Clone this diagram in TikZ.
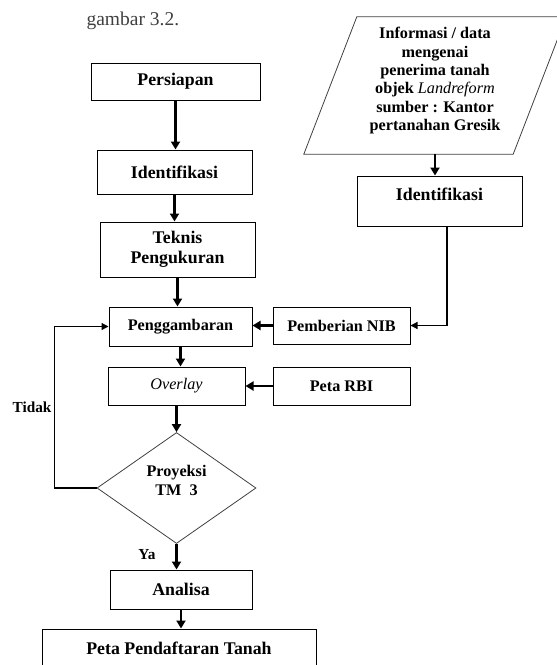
\documentclass[tikz,border=0pt]{standalone}
\usepackage{fontspec}
\setmainfont{Liberation Serif}
\usetikzlibrary{arrows.meta,shapes.geometric}

\newcommand{\naik}[2]{\raisebox{#1}[\height][\depth]{#2}}

\begin{document}
\begin{tikzpicture}[x=1pt,y=-1pt,
  box/.style={draw,line width=1pt,inner sep=2pt,align=center,
    font=\fontsize{17.8}{20}\selectfont\bfseries},
  kecil/.style={font=\fontsize{16.2}{19}\selectfont\bfseries},
  arr/.style={line width=2.6pt,-{Triangle[width=9pt,length=8pt]}},
  feed/.style={line width=1.2pt,-{Triangle[width=7pt,length=7pt]}},
  lbl/.style={font=\fontsize{15.3}{17}\selectfont\bfseries}]
  \useasboundingbox (0,0) rectangle (557,665);
  \clip (0,0) rectangle (557,665);

  \node[anchor=base west,text=black!75,font=\fontsize{19.5}{22}\selectfont] (judul) at (83,25) {gambar 3.2.};

  % kolom kiri
  \node[box,minimum width=169pt,minimum height=37pt] (persiapan) at (175.5,81.5) {Persiapan};
  \node[box,minimum width=155pt,minimum height=44pt] (identkiri) at (174.5,172) {Identifikasi};
  \node[box,minimum width=155pt,minimum height=55pt] (teknis) at (177.5,249.5) {Teknis\\Pengukuran};
  \node[box,kecil,minimum width=143pt,minimum height=39pt] (gambar) at (180.5,326.5) {Penggambaran};
  \node[box,kecil,minimum width=137pt,minimum height=38pt] (overlay) at (176.5,386) {\mdseries\itshape Overlay};
  \node[box,kecil,shape=diamond,line width=.8pt,draw=black!75,inner sep=0pt,
    minimum width=159pt,minimum height=111pt] (proyeksi) at (176.5,488)
    {\naik{6pt}{\begin{tabular}{@{}c@{}}Proyeksi\\TM\ \ 3\end{tabular}}};
  \node[box,minimum width=142pt,minimum height=39pt] (analisa) at (181,589.5) {Analisa};
  \node[box,minimum width=274pt,minimum height=39pt] (peta) at (179,648.5) {Peta Pendaftaran Tanah};

  % kolom kanan
  \node[inner sep=0pt,minimum width=262pt,minimum height=137pt,
    font=\fontsize{16.2}{18.4}\selectfont\bfseries] (info) at (435,85.5)
    {\naik{4.5pt}{\begin{tabular}{@{}c@{}}Informasi / data\\mengenai\\penerima tanah\\objek {\mdseries\itshape Landreform}\\sumber : Kantor\\pertanahan Gresik\end{tabular}}};
  \draw[line width=.8pt,draw=black!75] ([xshift=53pt]info.north west) -- (info.north east)
    -- ([xshift=-53pt]info.south east) -- (info.south west) -- cycle;
  \node[box,minimum width=165pt,minimum height=50pt] (identkanan) at (439.5,201) {\naik{7pt}{Identifikasi}};
  \node[box,kecil,minimum width=137pt,minimum height=37pt] (nib) at (341.5,325.5) {Pemberian NIB};
  \node[box,kecil,minimum width=137pt,minimum height=38pt] (rbi) at (341.5,386) {Peta RBI};

  \node[lbl] (tidak) at (32,407) {Tidak};
  \node[lbl] (ya) at (147,555) {Ya};

  % panah
  \draw[arr] (persiapan.south) -- (persiapan.south |- identkiri.north);
  \draw[arr] (identkiri.south) -- (identkiri.south |- teknis.north);
  \draw[arr] (teknis.south) -- (teknis.south |- gambar.north);
  \draw[arr] (gambar.south) -- (gambar.south |- overlay.north);
  \draw[arr] (overlay.south) -- (overlay.south |- proyeksi.north);
  \draw[arr] (proyeksi.south) -- (proyeksi.south |- analisa.north);
  \draw[arr] (analisa.south) -- (analisa.south |- peta.north);
  \draw[arr] (nib.west) -- (nib.west -| gambar.east);
  \draw[arr] (rbi.west) -- (rbi.west -| overlay.east);
  \draw[arr] (info.south) -- (info.south |- identkanan.north);
  \draw[feed] ([xshift=7.5pt]identkanan.south) |- (nib.east);
  \draw[feed] (proyeksi.west) -- ++(-42,0) |- (gambar.west);
\end{tikzpicture}
\end{document}
